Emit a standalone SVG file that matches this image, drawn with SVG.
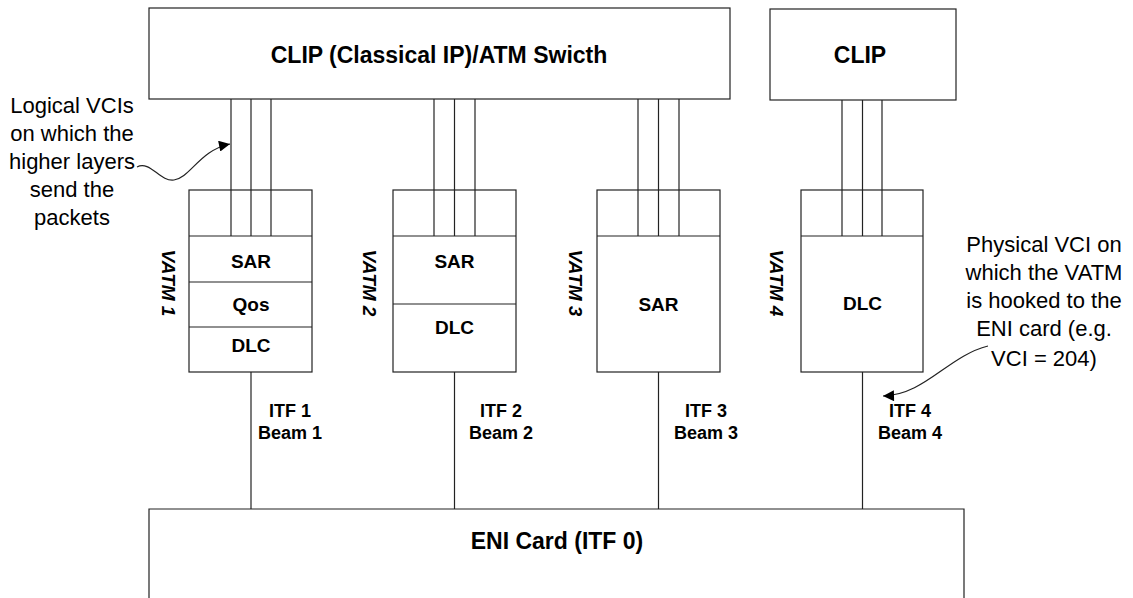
<svg xmlns="http://www.w3.org/2000/svg" width="1133" height="598" viewBox="0 0 1133 598">
<defs>
<style>
.box{fill:#fff;stroke:#222;stroke-width:1.2}
.ln{stroke:#222;stroke-width:1.2;fill:none}
.b{font-family:"Liberation Sans",Arial,sans-serif;font-weight:bold;fill:#000;text-anchor:middle}
.t23{font-size:23px}
.t19{font-size:19px}
.t18{font-size:18px}
.v{font-family:"Liberation Sans",Arial,sans-serif;font-weight:bold;font-style:italic;font-size:19px;text-anchor:middle;fill:#000}
.n{font-family:"Liberation Sans",Arial,sans-serif;font-size:22px;text-anchor:middle;fill:#000}
</style>
<marker id="ah" viewBox="0 0 10 10" refX="10" refY="5" markerWidth="17" markerHeight="11" markerUnits="userSpaceOnUse" orient="auto">
<path d="M0,0 L10,5 L0,10 Z" fill="#000"/>
</marker>
</defs>
<rect width="1133" height="598" fill="#fff"/>

<g id="clip-switch">
<rect class="box" x="149" y="8" width="581" height="91"/>
<text class="b t23" x="439" y="63">CLIP (Classical IP)/ATM Swicth</text>
</g>
<g id="clip">
<rect class="box" x="770" y="9" width="186" height="91"/>
<text class="b t23" x="860" y="63">CLIP</text>
</g>

<g id="vatm1">
<rect class="box" x="189" y="190" width="123" height="182"/>
<line class="ln" x1="189" y1="236" x2="312" y2="236"/>
<line class="ln" x1="189" y1="282" x2="312" y2="282"/>
<line class="ln" x1="189" y1="327" x2="312" y2="327"/>
<text class="b t19" x="251" y="268">SAR</text>
<text class="b t19" x="251" y="311">Qos</text>
<text class="b t19" x="251" y="352">DLC</text>
<text class="v" transform="translate(162,283) rotate(90)">VATM 1</text>
</g>
<g id="vatm2">
<rect class="box" x="393" y="190" width="123" height="182"/>
<line class="ln" x1="393" y1="236" x2="516" y2="236"/>
<line class="ln" x1="393" y1="304" x2="516" y2="304"/>
<text class="b t19" x="454.5" y="268">SAR</text>
<text class="b t19" x="454.5" y="334">DLC</text>
<text class="v" transform="translate(363,283) rotate(90)">VATM 2</text>
</g>
<g id="vatm3">
<rect class="box" x="597" y="190" width="123" height="182"/>
<line class="ln" x1="597" y1="236" x2="720" y2="236"/>
<text class="b t19" x="658.5" y="311">SAR</text>
<text class="v" transform="translate(569,283) rotate(90)">VATM 3</text>
</g>
<g id="vatm4">
<rect class="box" x="801" y="190" width="122" height="182"/>
<line class="ln" x1="801" y1="236" x2="923" y2="236"/>
<text class="b t19" x="862.5" y="310">DLC</text>
<text class="v" transform="translate(770,283) rotate(90)">VATM 4</text>
</g>

<g id="eni">
<path class="box" d="M149,600 L149,509 L964,509 L964,600"/>
<text class="b t23" x="557" y="549">ENI Card (ITF 0)</text>
</g>

<g id="connectors">
<line class="ln" x1="231" y1="99" x2="231" y2="236"/>
<line class="ln" x1="251" y1="99" x2="251" y2="236"/>
<line class="ln" x1="271" y1="99" x2="271" y2="236"/>
<line class="ln" x1="434" y1="99" x2="434" y2="236"/>
<line class="ln" x1="454.5" y1="99" x2="454.5" y2="236"/>
<line class="ln" x1="475" y1="99" x2="475" y2="236"/>
<line class="ln" x1="638" y1="99" x2="638" y2="236"/>
<line class="ln" x1="658.5" y1="99" x2="658.5" y2="236"/>
<line class="ln" x1="679" y1="99" x2="679" y2="236"/>
<line class="ln" x1="842" y1="100" x2="842" y2="236"/>
<line class="ln" x1="862.5" y1="100" x2="862.5" y2="236"/>
<line class="ln" x1="882" y1="100" x2="882" y2="236"/>
<line class="ln" x1="251" y1="372" x2="251" y2="509"/>
<line class="ln" x1="454.5" y1="372" x2="454.5" y2="509"/>
<line class="ln" x1="658.5" y1="372" x2="658.5" y2="509"/>
<line class="ln" x1="862.5" y1="372" x2="862.5" y2="509"/>
<path class="ln" d="M137,167 C150,160 160,182 174,180 C190,178 200,150 230,144" marker-end="url(#ah)"/>
<path class="ln" d="M988,346 C948,356 925,395 883,396" marker-end="url(#ah)"/>
</g>

<g id="labels">
<text class="b t18" x="290" y="417">ITF 1</text>
<text class="b t18" x="290" y="439">Beam 1</text>
<text class="b t18" x="501" y="417">ITF 2</text>
<text class="b t18" x="501" y="439">Beam 2</text>
<text class="b t18" x="706" y="417">ITF 3</text>
<text class="b t18" x="706" y="439">Beam 3</text>
<text class="b t18" x="910" y="417">ITF 4</text>
<text class="b t18" x="910" y="439">Beam 4</text>
<text class="n" x="72" y="113">Logical VCIs</text>
<text class="n" x="72" y="141">on which the</text>
<text class="n" x="72" y="169">higher layers</text>
<text class="n" x="72" y="197">send the</text>
<text class="n" x="72" y="225">packets</text>
<text class="n" x="1044" y="252">Physical VCI on</text>
<text class="n" x="1044" y="280">which the VATM</text>
<text class="n" x="1044" y="308">is hooked to the</text>
<text class="n" x="1044" y="336">ENI card (e.g.</text>
<text class="n" x="1044" y="366">VCI = 204)</text>
</g>
</svg>
